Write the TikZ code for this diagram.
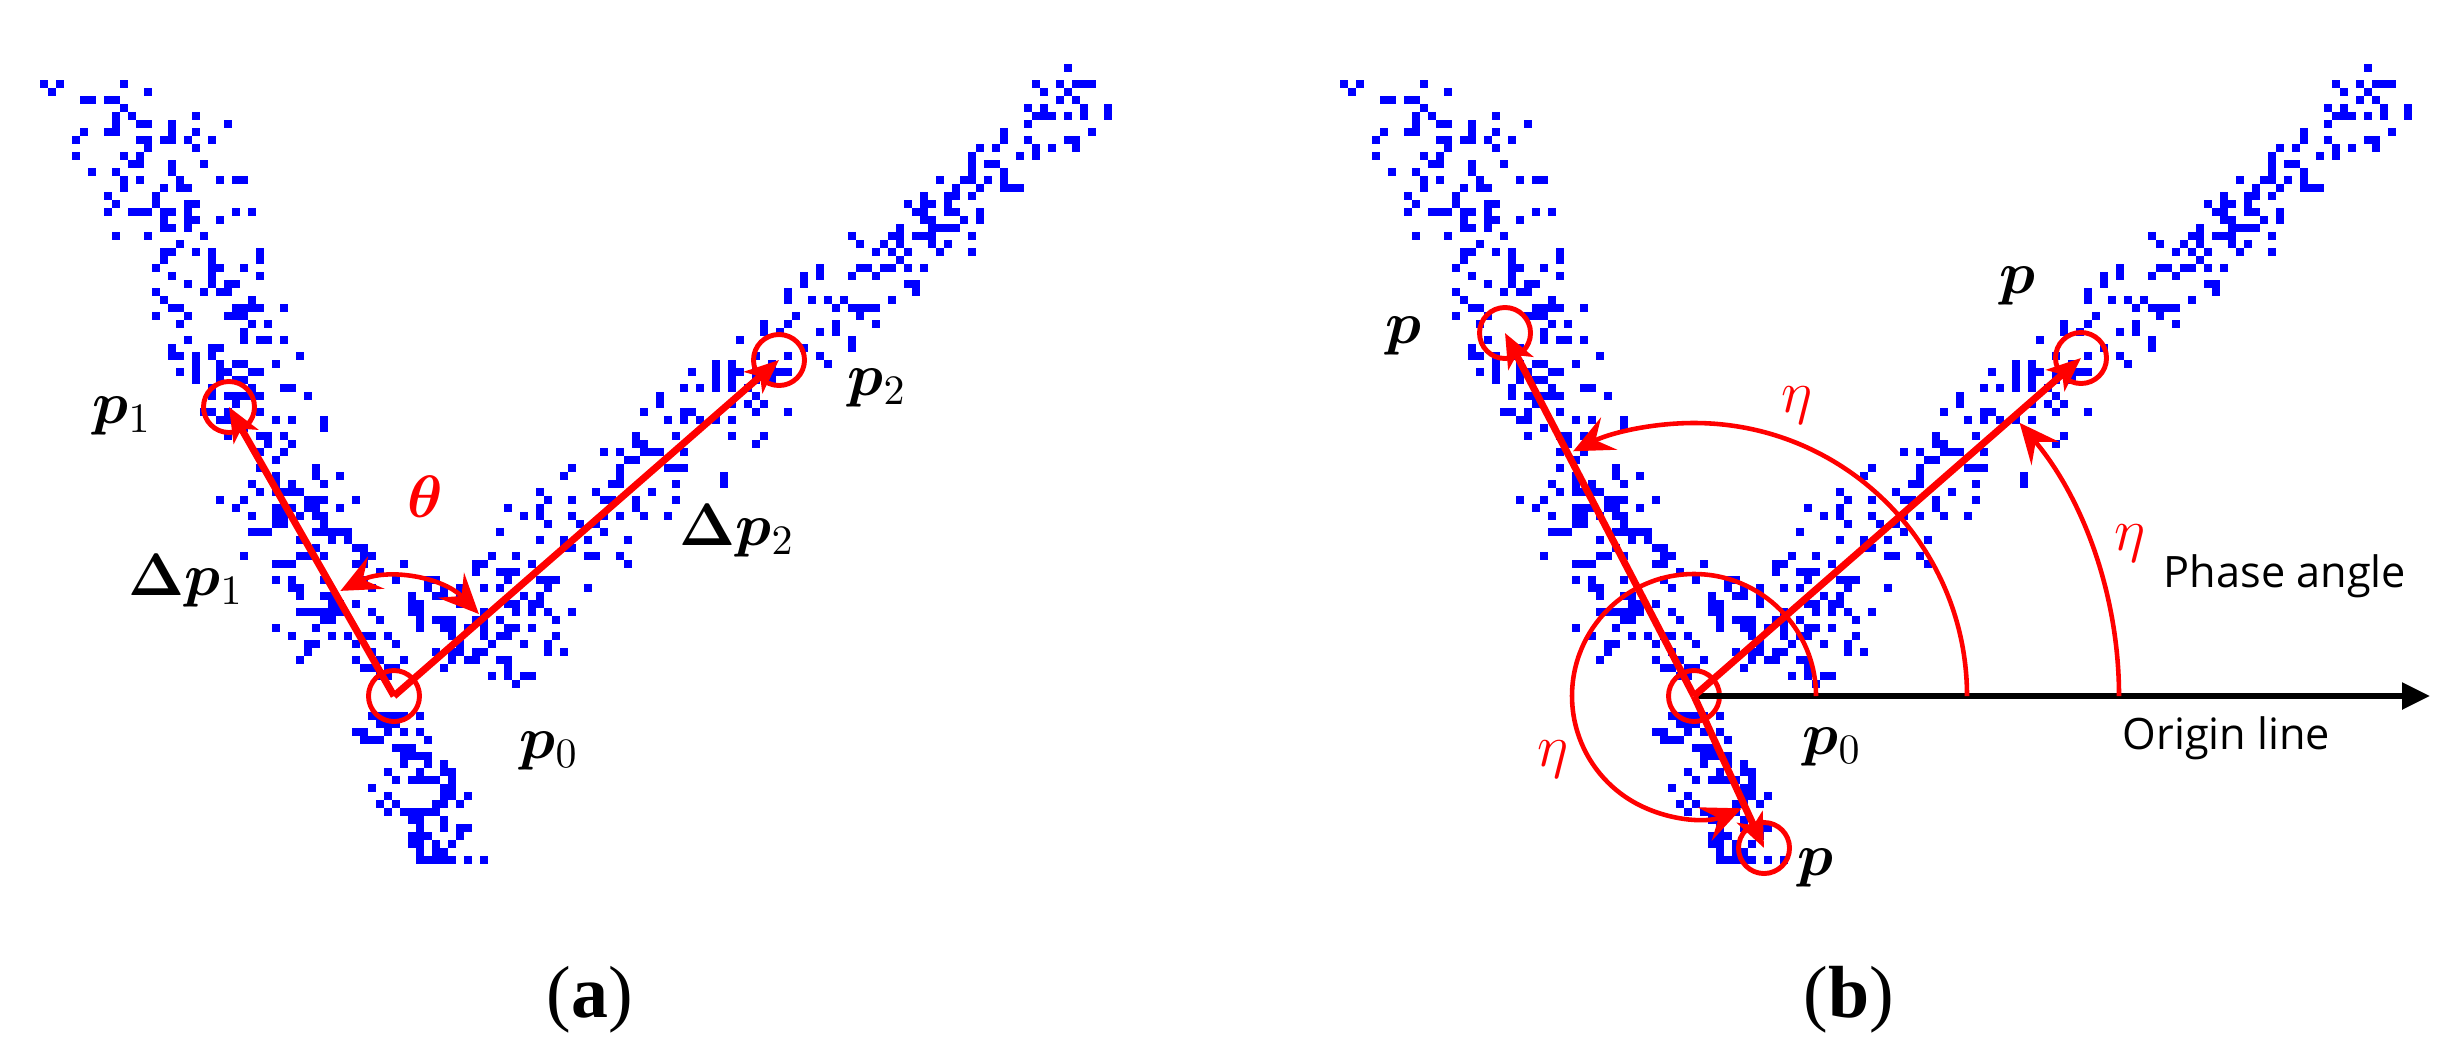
\documentclass[tikz,border=0pt]{standalone}
\usepackage{fix-cm}
\usepackage{amsmath,bm}
\usepackage{fontspec}
\newfontfamily\guifont{Open Sans}
\newfontfamily\capfont{Liberation Serif}
\usepackage{tikz}
\usetikzlibrary{arrows.meta}
\tikzstyle{ring} =[circle, draw=red, line width=1.4pt, minimum size=5.1mm, inner sep=0pt]
\tikzstyle{vec} =[red, line width=2pt, -{Stealth[length=3.4mm, width=2.8mm, inset=0.9mm]}]
\tikzstyle{angarc} =[red, line width=1.3pt, -{Stealth[length=4mm, width=3.6mm, inset=1.5mm]}]
\tikzstyle{lbl} =[font=\fontsize{17}{20}\selectfont, inner sep=0pt]
\tikzstyle{redlbl} =[lbl, text=red]
\tikzstyle{txt} =[font=\guifont\fontsize{12.3}{14}\selectfont, inner sep=0pt, anchor=base west]
\tikzstyle{captext} =[font=\capfont\fontsize{21}{24}\selectfont]
\tikzstyle{dot} =[fill=blue]
% point cloud, same seed for both panels
\newcommand{\drawcloud}{%
  \pgfmathsetseed{4711}%
  \foreach \k in {1,...,330}{% left arm
    \pgfmathsetmacro{\ct}{0.97*rnd}%
    \pgfmathsetmacro{\cx}{8*round((118+250*\ct+47*(rand+0.6*rand)*(1.3-0.4*\ct))/8)}%
    \pgfmathsetmacro{\cy}{8*round((75+615*\ct)/8)}%
    \fill[dot] (\cx,\cy) rectangle +(7.5,7.5);
  }%
  \foreach \k in {1,...,95}{% tail
    \pgfmathsetmacro{\ct}{0.1+0.9*rnd}%
    \pgfmathsetmacro{\cx}{8*round((375+75*\ct+35*(rand+0.5*rand))/8)}%
    \pgfmathsetmacro{\cy}{8*round((690+175*\ct)/8)}%
    \fill[dot] (\cx,\cy) rectangle +(7.5,7.5);
  }%
  \foreach \k in {1,...,340}{% right arm
    \pgfmathsetmacro{\ct}{0.05+0.95*rnd}%
    \pgfmathsetmacro{\co}{32*(rand+0.6*rand)*(1.6-0.8*\ct)}%
    \pgfmathsetmacro{\cx}{8*round((400+690*\ct+0.666*\co)/8)}%
    \pgfmathsetmacro{\cy}{8*round((690-615*\ct+0.747*\co)/8)}%
    \fill[dot] (\cx,\cy) rectangle +(7.5,7.5);
  }%
  \foreach \k in {1,...,35}{% between the arms
    \pgfmathsetmacro{\cx}{8*round((460+70*rand)/8)}%
    \pgfmathsetmacro{\cy}{8*round((615+55*rand)/8)}%
    \fill[dot] (\cx,\cy) rectangle +(7.5,7.5);
  }%
}

\begin{document}
\begin{tikzpicture}[x=0.01cm, y=-0.01cm]
\useasboundingbox (0,0) rectangle (2464,1048);

% clouds (y axis points down, so angles are negated)
\begin{scope}
\drawcloud
\end{scope}
\begin{scope}[shift={(1300,0)}]
\drawcloud
\end{scope}

% (a)
\node (p0a) [ring] at (394,696) {};
\node (p1a) [ring] at (229,407) {};
\node (p2a) [ring] at (779,360) {};
\draw [vec] (p0a.center) -- (p1a.center);
\draw [vec] (p0a.center) -- (p2a.center);
\draw [angarc, {Stealth[length=4mm, width=3.6mm, inset=1.5mm]}-{Stealth[length=4mm, width=3.6mm, inset=1.5mm]}] ([shift={(-44:118)}]p0a.center) arc[start angle=-44, end angle=-117, radius=118];

\node (lp1) [lbl] at (122,416) {$\bm{p}_1$};
\node (lp2) [lbl] at (877,388) {$\bm{p}_2$};
\node (ld1) [lbl] at (186,581) {$\bm{\Delta}\bm{p}_1$};
\node (ld2) [lbl] at (737,531) {$\bm{\Delta}\bm{p}_2$};
\node (lth) [redlbl] at (425,497) {$\bm{\theta}$};
\node (lp0a) [lbl] at (549,751) {$\bm{p}_0$};

% (b)
\node (p0b) [ring] at (1694,696) {};
\node (pul) [ring] at (1505,333) {};
\node (pur) [ring] at (2081,358) {};
\node (pbt) [ring] at (1764,848) {};
\coordinate (oend) at (2430,696);
\draw [line width=1.6pt, -{Triangle[length=2.8mm, width=2.6mm]}] (p0b.center) -- (oend);
\draw [vec] (p0b.center) -- (pul.center);
\draw [vec] (p0b.center) -- (pur.center);
\draw [vec] (p0b.center) -- (pbt.center);
\draw [angarc] ([shift={(0:122)}]p0b.center) arc[start angle=0, end angle=-293, radius=122];
\draw [angarc] ([shift={(0:273)}]p0b.center) arc[start angle=0, end angle=-116.3, radius=273];
\draw [angarc] ([shift={(0:425)}]p0b.center) arc[start angle=0, end angle=-40, radius=425];

\node (lpul) [lbl] at (1403,336) {$\bm{p}$};
\node (lpur) [lbl] at (2017,286) {$\bm{p}$};
\node (lpbt) [lbl] at (1815,868) {$\bm{p}$};
\node (lp0b) [lbl] at (1832,747) {$\bm{p}_0$};
\node (eta1) [redlbl] at (1797,405) {$\eta$};
\node (eta2) [redlbl] at (2130,543) {$\eta$};
\node (eta3) [redlbl] at (1553,759) {$\eta$};
\node (phase) [txt] at (2163,587) {Phase angle};
\node (origin) [txt] at (2122,749) {Origin line};

% captions
\node (capa) [captext] at (590,1000) {(\textbf{a})};
\node (capb) [captext] at (1849,1000) {(\textbf{b})};
\end{tikzpicture}
\end{document}
